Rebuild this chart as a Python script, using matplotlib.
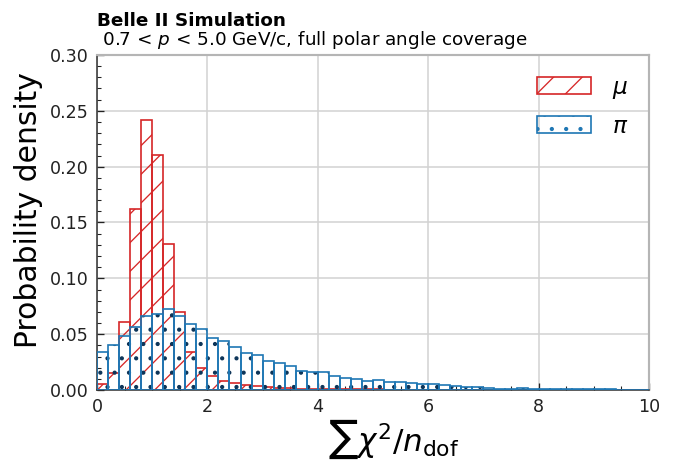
import numpy as np
import matplotlib
matplotlib.use("Agg")
import matplotlib.pyplot as plt
from matplotlib.patches import Patch
from matplotlib.ticker import MultipleLocator

# Binning of the summed chi2 per degree of freedom
bin_edges = np.round(np.arange(0.0, 10.0001, 0.2), 2)

# Normalised per-bin fractions for muons
muon_values = [
    0.0050, 0.0155, 0.0605, 0.1620, 0.2415, 0.2105, 0.1308, 0.0700, 0.0343, 0.0200,
    0.0128, 0.0081, 0.0060, 0.0045, 0.0036, 0.0025, 0.0019, 0.0015, 0.0012, 0.0010,
    0.0009, 0.0008, 0.0007, 0.0006, 0.0005, 0.0005, 0.0004, 0.0004, 0.0003, 0.0003,
    0.0003, 0.0002, 0.0002, 0.0002, 0.0002, 0.0002, 0.0002, 0.0001, 0.0001, 0.0001,
    0.0001, 0.0001, 0.0001, 0.0001, 0.0001, 0.0001, 0.0001, 0.0001, 0.0001, 0.0001,
]

# Normalised per-bin fractions for pions
pion_values = [
    0.0336, 0.0405, 0.0480, 0.0560, 0.0667, 0.0677, 0.0725, 0.0663, 0.0589, 0.0548,
    0.0467, 0.0435, 0.0387, 0.0327, 0.0310, 0.0260, 0.0239, 0.0212, 0.0173, 0.0161,
    0.0158, 0.0125, 0.0108, 0.0102, 0.0084, 0.0088, 0.0075, 0.0072, 0.0060, 0.0057,
    0.0054, 0.0045, 0.0032, 0.0030, 0.0024, 0.0017, 0.0012, 0.0013, 0.0014, 0.0012,
    0.0010, 0.0009, 0.0008, 0.0007, 0.0006, 0.0005, 0.0005, 0.0004, 0.0003, 0.0003,
]

labels = [r"$\mu$", r"$\pi$"]

RED = "#d62728"
BLUE = "#1f77b4"
NAVY = "#0d3559"

DPI = 86
plt.rcParams["font.family"] = ["DejaVu Sans"]
plt.rcParams["hatch.linewidth"] = 1.1

fig = plt.figure(figsize=(686 / DPI, 461 / DPI), dpi=DPI)
ax = fig.add_axes([97 / 686, 71 / 461, (649 - 97) / 686, (390 - 55) / 461])

left = bin_edges[:-1]
width = np.diff(bin_edges)

# muons: hatched outline bars
ax.bar(left, muon_values, width=width, align="edge", fill=False,
       edgecolor=RED, linewidth=1.4, hatch="/", zorder=2)

# pions: dotted hatch in navy, then blue outlines on top
ax.bar(left, pion_values, width=width, align="edge", fill=False,
       edgecolor=NAVY, linewidth=0.0, hatch=".", zorder=3)
ax.bar(left, pion_values, width=width, align="edge", fill=False,
       edgecolor=BLUE, linewidth=1.4, zorder=4)

ax.set_xlim(0, 10)
ax.set_ylim(0, 0.30)
ax.xaxis.set_major_locator(MultipleLocator(2))
ax.xaxis.set_minor_locator(MultipleLocator(0.5))
ax.yaxis.set_major_locator(MultipleLocator(0.05))
ax.yaxis.set_minor_locator(MultipleLocator(0.01))
ax.yaxis.set_major_formatter(plt.FormatStrFormatter("%.2f"))

ax.grid(True, which="major", color="#d3d3d3", linewidth=1.3, zorder=0)
ax.set_axisbelow(True)

ax.tick_params(which="both", direction="in", top=False, right=False,
               labelsize=14.7, colors="#222222", pad=7.0)
ax.tick_params(which="major", length=6.0, width=1.1)
ax.tick_params(which="minor", length=3.0, width=0.9)

for side in ("left", "bottom"):
    ax.spines[side].set_color("#333333")
    ax.spines[side].set_linewidth(1.3)
for side in ("top", "right"):
    ax.spines[side].set_color("#b5b5b5")
    ax.spines[side].set_linewidth(1.8)

ax.set_ylabel("Probability density", fontsize=24.9)
ax.yaxis.set_label_coords(-0.098, 0.537)
ax.set_xlabel(r"$\sum\chi^2/n_{\mathrm{dof}}$", fontsize=26)
ax.xaxis.set_label_coords(0.538, -0.083)

fig.text(97 / 686, 1 - 25.7 / 461, "Belle II Simulation", fontsize=15.4,
         fontweight="bold", ha="left", va="baseline")
fig.text(97 / 686, 1 - 45 / 461,
         r" 0.7 < $p$ < 5.0 GeV/c, full polar angle coverage",
         fontsize=15.4, ha="left", va="baseline")

handles = [
    Patch(facecolor="none", edgecolor=RED, linewidth=1.4, hatch="/"),
    Patch(facecolor="none", edgecolor=BLUE, linewidth=1.4, hatch="."),
]
leg = ax.legend(handles, labels, loc="upper right", frameon=False,
                fontsize=19.5, handlelength=2.3, handleheight=0.75,
                labelspacing=0.6, handletextpad=0.9,
                bbox_to_anchor=(1.0, 1.0))

fig.savefig("out.png", dpi=DPI)
